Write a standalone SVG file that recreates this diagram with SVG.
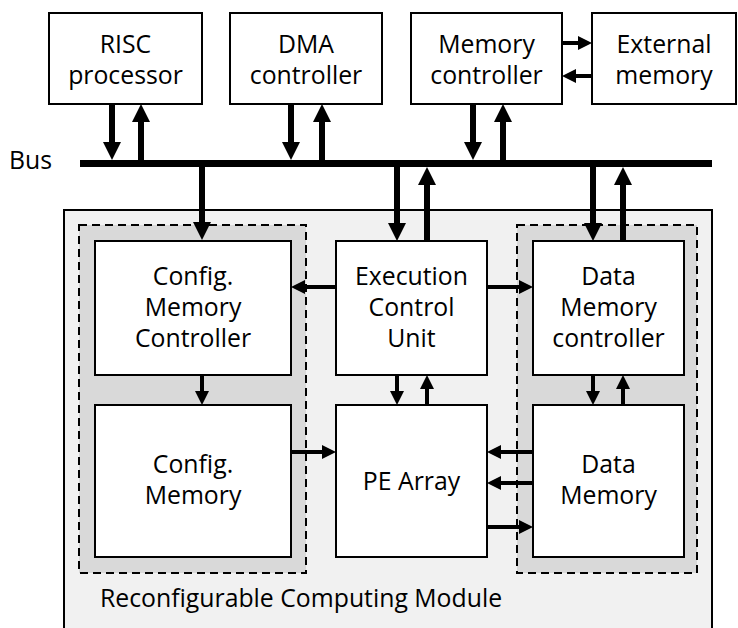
<svg xmlns="http://www.w3.org/2000/svg" width="738" height="628" viewBox="0 0 738 628">
<style>
.box{fill:#fff;stroke:#000;stroke-width:2}
.mod{fill:#f1f1f1;stroke:#000;stroke-width:2}
.grp{fill:#d9d9d9;stroke:#000;stroke-width:2;stroke-dasharray:8,5}
.t{font-family:"Open Sans","Noto Sans","DejaVu Sans",sans-serif;font-size:24.8px;fill:#000;text-anchor:middle}
.tl{font-family:"Open Sans","Noto Sans","DejaVu Sans",sans-serif;font-size:24.8px;fill:#000}
.thick{stroke:#000;stroke-width:6;fill:none;marker-end:url(#ah)}
.thin{stroke:#000;stroke-width:4;fill:none;marker-end:url(#as)}
</style>
<defs>
<marker id="ah" viewBox="0 0 18 18" refX="1" refY="9" markerWidth="18" markerHeight="18" markerUnits="userSpaceOnUse" orient="auto"><path d="M0,0 L18,9 L0,18 z" fill="#000"/></marker>
<marker id="as" viewBox="0 0 14 14" refX="1" refY="7" markerWidth="14" markerHeight="14" markerUnits="userSpaceOnUse" orient="auto"><path d="M0,0 L14,7 L0,14 z" fill="#000"/></marker>
</defs>
<rect width="738" height="628" fill="#fff"/>
<g id="module">
<rect class="mod" x="64" y="210" width="648" height="440"/>
<text class="tl" x="100" y="607">Reconfigurable Computing Module</text>
</g>
<g id="group-config"><rect class="grp" x="79" y="225" width="227" height="348"/></g>
<g id="group-data"><rect class="grp" x="517" y="225" width="180" height="348"/></g>
<g id="bus">
<rect x="80" y="160" width="632" height="7" fill="#000"/>
<text class="tl" x="9" y="169">Bus</text>
</g>
<g id="risc"><rect class="box" x="49" y="13" width="153" height="91"/><text class="t" x="125.5" y="53">RISC</text><text class="t" x="125.5" y="84">processor</text></g>
<g id="dma"><rect class="box" x="230" y="13" width="152" height="91"/><text class="t" x="306" y="53">DMA</text><text class="t" x="306" y="84">controller</text></g>
<g id="memctrl"><rect class="box" x="411" y="13" width="151" height="91"/><text class="t" x="486.5" y="53">Memory</text><text class="t" x="486.5" y="84">controller</text></g>
<g id="extmem"><rect class="box" x="592" y="13" width="144" height="91"/><text class="t" x="664" y="53">External</text><text class="t" x="664" y="84">memory</text></g>
<g id="cmc"><rect class="box" x="95" y="241" width="196" height="134"/><text class="t" x="193" y="285">Config.</text><text class="t" x="193" y="316">Memory</text><text class="t" x="193" y="347">Controller</text></g>
<g id="ecu"><rect class="box" x="336" y="241" width="151" height="134"/><text class="t" x="411.5" y="285">Execution</text><text class="t" x="411.5" y="316">Control</text><text class="t" x="411.5" y="347">Unit</text></g>
<g id="dmc"><rect class="box" x="533" y="241" width="151" height="134"/><text class="t" x="608.5" y="285">Data</text><text class="t" x="608.5" y="316">Memory</text><text class="t" x="608.5" y="347">controller</text></g>
<g id="cm"><rect class="box" x="95" y="405" width="196" height="152"/><text class="t" x="193" y="473">Config.</text><text class="t" x="193" y="504">Memory</text></g>
<g id="pe"><rect class="box" x="336" y="405" width="151" height="152"/><text class="t" x="411.5" y="490">PE Array</text></g>
<g id="dm"><rect class="box" x="533" y="405" width="151" height="152"/><text class="t" x="608.5" y="473">Data</text><text class="t" x="608.5" y="504">Memory</text></g>
<g id="connectors">
<line class="thick" x1="112" y1="104" x2="112" y2="143"/>
<line class="thick" x1="141" y1="160" x2="141" y2="121"/>
<line class="thick" x1="291" y1="104" x2="291" y2="143"/>
<line class="thick" x1="322" y1="160" x2="322" y2="121"/>
<line class="thick" x1="473" y1="104" x2="473" y2="143"/>
<line class="thick" x1="503" y1="160" x2="503" y2="121"/>
<line class="thick" x1="202" y1="167" x2="202" y2="223"/>
<line class="thick" x1="397" y1="167" x2="397" y2="224"/>
<line class="thick" x1="427" y1="241" x2="427" y2="184"/>
<line class="thick" x1="593" y1="167" x2="593" y2="224"/>
<line class="thick" x1="623" y1="241" x2="623" y2="184"/>
<line class="thin" x1="562" y1="43" x2="579" y2="43"/>
<line class="thin" x1="592" y1="76" x2="575" y2="76"/>
<line class="thin" x1="336" y1="287" x2="304" y2="287"/>
<line class="thin" x1="487" y1="287" x2="520" y2="287"/>
<line class="thin" x1="202" y1="375" x2="202" y2="392"/>
<line class="thin" x1="397" y1="375" x2="397" y2="392"/>
<line class="thin" x1="427" y1="405" x2="427" y2="388"/>
<line class="thin" x1="593" y1="375" x2="593" y2="392"/>
<line class="thin" x1="623" y1="405" x2="623" y2="388"/>
<line class="thin" x1="291" y1="452" x2="323" y2="452"/>
<line class="thin" x1="533" y1="452" x2="500" y2="452"/>
<line class="thin" x1="533" y1="483" x2="500" y2="483"/>
<line class="thin" x1="487" y1="527" x2="520" y2="527"/>
</g>
</svg>
